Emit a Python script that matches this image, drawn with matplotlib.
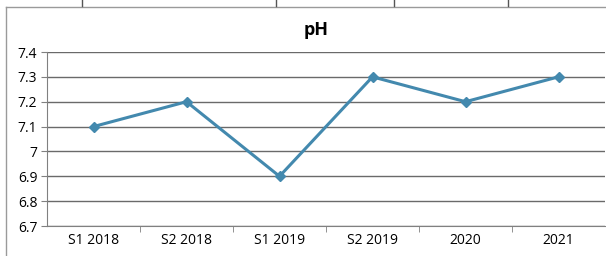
import matplotlib.pyplot as plt
from matplotlib.lines import Line2D

categories = ["S1 2018", "S2 2018", "S1 2019", "S2 2019", "2020", "2021"]
ph_values = [7.1, 7.2, 6.9, 7.3, 7.2, 7.3]
y_ticks = [6.7, 6.8, 6.9, 7.0, 7.1, 7.2, 7.3, 7.4]
y_labels = ["6.7", "6.8", "6.9", "7", "7.1", "7.2", "7.3", "7.4"]

plt.rcParams["font.family"] = ["Open Sans", "DejaVu Sans"]

fig = plt.figure(figsize=(6.06, 2.56), dpi=100)
ax = fig.add_axes([47 / 606, 30 / 256, 558 / 606, 174 / 256])

x = list(range(len(categories)))
ax.plot(x, ph_values, color="#4389AE", lw=2.2, marker="D", ms=5,
        markerfacecolor="#4389AE", markeredgecolor="#4389AE", zorder=3)

ax.set_xlim(-0.5, len(categories) - 0.5)
ax.set_ylim(6.7, 7.4)
ax.set_yticks(y_ticks)
ax.set_yticklabels(y_labels, fontsize=10)
ax.set_xticks(x)
ax.set_xticklabels(categories, fontsize=10)
ax.set_xticks([i + 0.5 for i in range(len(categories) - 1)], minor=True)
ax.tick_params(axis="x", which="major", length=0, pad=5)
ax.tick_params(axis="x", which="minor", length=4, direction="out", color="#808080")
ax.tick_params(axis="y", length=4, direction="out", color="#808080", pad=3)
ax.grid(axis="y", color="#6a6a6a", lw=1)
ax.set_axisbelow(True)
for side in ["top", "right"]:
    ax.spines[side].set_visible(False)
ax.spines["left"].set_color("#808080")
ax.spines["bottom"].set_color("#808080")

fig.text(316 / 606, 1 - 30 / 256, "pH", ha="center", va="center",
         fontsize=13, fontweight="bold")

# chart frame and piece of table above
fig.add_artist(Line2D([6 / 606, 6 / 606], [0, 1 - 7 / 256], color="#9a9a9a", lw=1))
fig.add_artist(Line2D([6 / 606, 1], [1 - 7 / 256, 1 - 7 / 256], color="#9a9a9a", lw=1))
for xl in [82, 276, 394, 508]:
    fig.add_artist(Line2D([xl / 606, xl / 606], [1 - 6 / 256, 1], color="#555555", lw=1))

fig.savefig("out.png", dpi=100)
